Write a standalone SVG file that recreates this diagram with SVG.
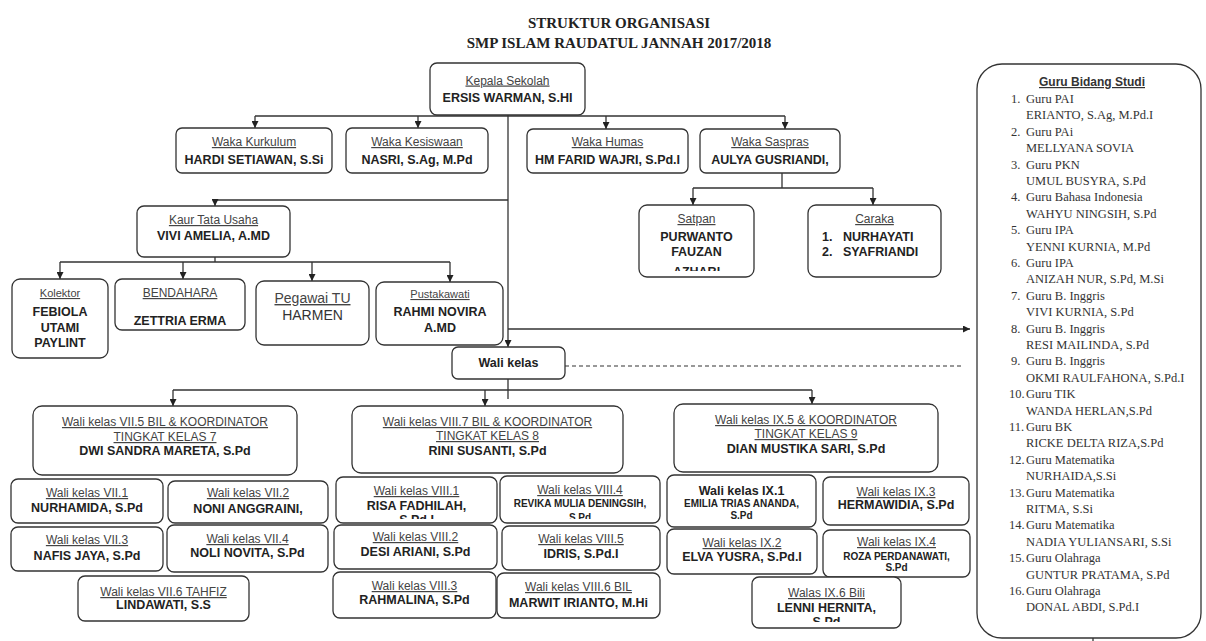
<svg xmlns="http://www.w3.org/2000/svg" width="1206" height="641" viewBox="0 0 1206 641">
<style>
.box{fill:#fff;stroke:#333;stroke-width:1.3}
.ln{fill:none;stroke:#333;stroke-width:1.3}
.dash{fill:none;stroke:#333;stroke-width:1.2;stroke-dasharray:4 3}
.t{font-family:"Liberation Serif","Times New Roman",serif;font-size:15px;font-weight:bold;fill:#222;text-anchor:middle}
.u{font-family:"Liberation Sans",Arial,sans-serif;font-size:12px;fill:#444;text-decoration:underline;text-anchor:middle}
.us{font-family:"Liberation Sans",Arial,sans-serif;font-size:11px;fill:#444;text-decoration:underline;text-anchor:middle}
.ul{font-family:"Liberation Sans",Arial,sans-serif;font-size:14px;fill:#444;text-decoration:underline;text-anchor:middle}
.nl{font-family:"Liberation Sans",Arial,sans-serif;font-size:14px;fill:#333;text-anchor:middle}
.b{font-family:"Liberation Sans",Arial,sans-serif;font-size:12.5px;font-weight:bold;fill:#222;text-anchor:middle}
.bs{font-family:"Liberation Sans",Arial,sans-serif;font-size:10px;font-weight:bold;fill:#222;text-anchor:middle}
.bl{font-family:"Liberation Sans",Arial,sans-serif;font-size:12.5px;font-weight:bold;fill:#222}
.g{font-family:"Liberation Serif","Times New Roman",serif;font-size:12.5px;fill:#333}
.gh{font-family:"Liberation Sans",Arial,sans-serif;font-size:12px;font-weight:bold;fill:#333;text-decoration:underline;text-anchor:middle}
</style>
<defs>
<marker id="ah" viewBox="0 0 8 8" refX="8" refY="4" markerWidth="7" markerHeight="7" orient="auto" markerUnits="userSpaceOnUse"><path d="M0,0 L8,4 L0,8 z" fill="#222"/></marker>
<clipPath id="cSat"><rect x="639" y="205" width="115" height="66"/></clipPath>
<clipPath id="c81"><rect x="336" y="477" width="161" height="42"/></clipPath>
<clipPath id="c84"><rect x="500" y="476" width="160" height="43"/></clipPath>
<clipPath id="c96"><rect x="752" y="577" width="149" height="45"/></clipPath>
</defs>
<rect width="1206" height="641" fill="#fff"/>
<g id="title">
<text class="t" x="619" y="28">STRUKTUR ORGANISASI</text>
<text class="t" x="619" y="48">SMP ISLAM RAUDATUL JANNAH 2017/2018</text>
</g>
<g id="connectors">
<path class="ln" d="M508,115 V347" marker-end="url(#ah)"/>
<path class="ln" d="M255,116 H785"/>
<path class="ln" d="M255,116 V128" marker-end="url(#ah)"/>
<path class="ln" d="M418,116 V128" marker-end="url(#ah)"/>
<path class="ln" d="M606,116 V129" marker-end="url(#ah)"/>
<path class="ln" d="M785,116 V129" marker-end="url(#ah)"/>
<path class="ln" d="M508,200 H215 V206" marker-end="url(#ah)"/>
<path class="ln" d="M215,257 V262 M60,262 H450"/>
<path class="ln" d="M60,262 V279" marker-end="url(#ah)"/>
<path class="ln" d="M183,262 V279" marker-end="url(#ah)"/>
<path class="ln" d="M312,262 V281" marker-end="url(#ah)"/>
<path class="ln" d="M450,262 V282" marker-end="url(#ah)"/>
<path class="ln" d="M782,173 V188 M693,188 H873"/>
<path class="ln" d="M693,188 V205" marker-end="url(#ah)"/>
<path class="ln" d="M873,188 V205" marker-end="url(#ah)"/>
<path class="ln" d="M508,329 H970" marker-end="url(#ah)"/>
<path class="ln" d="M508,379 V399 M173,390 H812"/>
<path class="ln" d="M173,390 V406" marker-end="url(#ah)"/>
<path class="ln" d="M485,390 V406" marker-end="url(#ah)"/>
<path class="ln" d="M812,390 V404" marker-end="url(#ah)"/>
<path class="dash" d="M565,366 H962"/>
<path class="ln" d="M1093,630 V641"/>
</g>
<g id="kepala"><rect class="box" x="430" y="63" width="155" height="52" rx="7"/>
<text class="u" x="507.5" y="84.5">Kepala Sekolah</text><text class="b" x="507.5" y="101.5">ERSIS WARMAN, S.HI</text></g>
<g id="kurikulum"><rect class="box" x="176" y="128" width="156" height="45" rx="6"/>
<text class="u" x="254" y="146">Waka Kurkulum</text><text class="b" x="254" y="164">HARDI SETIAWAN, S.Si</text></g>
<g id="kesiswaan"><rect class="box" x="346" y="128" width="142" height="45" rx="6"/>
<text class="u" x="417" y="146">Waka Kesiswaan</text><text class="b" x="417" y="164">NASRI, S.Ag, M.Pd</text></g>
<g id="humas"><rect class="box" x="527" y="129" width="161" height="44" rx="6"/>
<text class="u" x="607.5" y="146">Waka Humas</text><text class="b" x="607.5" y="164">HM FARID WAJRI, S.Pd.I</text></g>
<g id="saspras"><rect class="box" x="700" y="129" width="140" height="44" rx="6"/>
<text class="u" x="770" y="146">Waka Saspras</text><text class="b" x="770" y="164">AULYA GUSRIANDI,</text></g>
<g id="kaur"><rect class="box" x="137" y="206" width="153" height="51" rx="7"/>
<text class="u" x="213.5" y="224">Kaur Tata Usaha</text><text class="b" x="213.5" y="240">VIVI AMELIA, A.MD</text></g>
<g id="satpam"><rect class="box" x="639" y="205" width="115" height="72" rx="8"/>
<text class="u" x="696.5" y="223">Satpan</text><text class="b" x="696.5" y="241">PURWANTO</text><text class="b" x="696.5" y="256">FAUZAN</text>
<text class="b" x="696.5" y="276" clip-path="url(#cSat)">AZHARI</text></g>
<g id="caraka"><rect class="box" x="808" y="205" width="133" height="72" rx="8"/>
<text class="u" x="874.5" y="223">Caraka</text>
<text class="bl" x="822" y="241">1.</text><text class="bl" x="843" y="241">NURHAYATI</text>
<text class="bl" x="822" y="256">2.</text><text class="bl" x="843" y="256">SYAFRIANDI</text></g>
<g id="kolektor"><rect class="box" x="12" y="279" width="96" height="79" rx="8"/>
<text class="us" x="60" y="297">Kolektor</text><text class="b" x="60" y="316">FEBIOLA</text><text class="b" x="60" y="332">UTAMI</text><text class="b" x="60" y="347">PAYLINT</text></g>
<g id="bendahara"><rect class="box" x="115" y="279" width="130" height="51" rx="7"/>
<text class="u" x="180" y="297">BENDAHARA</text><text class="b" x="180" y="325">ZETTRIA ERMA</text></g>
<g id="pegawai"><rect class="box" x="256" y="281" width="113" height="64" rx="8"/>
<text class="ul" x="312.5" y="303">Pegawai TU</text><text class="nl" x="312.5" y="320">HARMEN</text></g>
<g id="pustakawati"><rect class="box" x="376" y="282" width="127" height="63" rx="8"/>
<text class="us" x="440" y="298">Pustakawati</text><text class="b" x="440" y="316">RAHMI NOVIRA</text><text class="b" x="440" y="332">A.MD</text></g>
<g id="walikelas"><rect class="box" x="452" y="347" width="113" height="32" rx="6"/>
<text class="b" x="508.5" y="367">Wali kelas</text></g>
<g id="koord7"><rect class="box" x="33" y="406" width="264" height="69" rx="9"/>
<text class="u" x="165" y="426">Wali kelas VII.5 BIL &amp; KOORDINATOR</text><text class="u" x="165" y="441">TINGKAT KELAS 7</text><text class="b" x="165" y="454.5">DWI SANDRA MARETA, S.Pd</text></g>
<g id="koord8"><rect class="box" x="352" y="406" width="271" height="67" rx="9"/>
<text class="u" x="487.5" y="426">Wali kelas VIII.7 BIL &amp; KOORDINATOR</text><text class="u" x="487.5" y="440">TINGKAT KELAS 8</text><text class="b" x="487.5" y="454.5">RINI SUSANTI, S.Pd</text></g>
<g id="koord9"><rect class="box" x="674" y="404" width="264" height="68" rx="9"/>
<text class="u" x="806" y="424">Wali kelas IX.5 &amp; KOORDINATOR</text><text class="u" x="806" y="438">TINGKAT KELAS 9</text><text class="b" x="806" y="452.5">DIAN MUSTIKA SARI, S.Pd</text></g>
<g id="vii1"><rect class="box" x="11" y="479" width="152" height="44" rx="7"/>
<text class="u" x="87" y="497">Wali kelas VII.1</text><text class="b" x="87" y="512">NURHAMIDA, S.Pd</text></g>
<g id="vii2"><rect class="box" x="168" y="481" width="160" height="42" rx="7"/>
<text class="u" x="248" y="497">Wali kelas VII.2</text><text class="b" x="248" y="513">NONI ANGGRAINI,</text></g>
<g id="vii3"><rect class="box" x="11" y="527" width="152" height="44" rx="7"/>
<text class="u" x="87" y="544">Wali kelas VII.3</text><text class="b" x="87" y="560">NAFIS JAYA, S.Pd</text></g>
<g id="vii4"><rect class="box" x="167" y="525" width="161" height="47" rx="7"/>
<text class="u" x="247.5" y="543">Wali kelas VII.4</text><text class="b" x="247.5" y="557">NOLI NOVITA, S.Pd</text></g>
<g id="vii6"><rect class="box" x="78" y="576" width="171" height="45" rx="7"/>
<text class="u" x="163.5" y="596">Wali kelas VII.6 TAHFIZ</text><text class="b" x="163.5" y="609">LINDAWATI, S.S</text></g>
<g id="viii1"><rect class="box" x="336" y="477" width="161" height="46" rx="7"/>
<text class="u" x="416.5" y="495">Wali kelas VIII.1</text><text class="b" x="416.5" y="510">RISA FADHILAH,</text>
<text class="b" x="416.5" y="524" clip-path="url(#c81)">S.Pd.I</text></g>
<g id="viii4"><rect class="box" x="500" y="476" width="160" height="47" rx="7"/>
<text class="u" x="580" y="494">Wali kelas VIII.4</text><text class="bs" x="580" y="507">REVIKA MULIA DENINGSIH,</text>
<text class="bs" x="580" y="521" clip-path="url(#c84)">S.Pd</text></g>
<g id="viii2"><rect class="box" x="334" y="525" width="163" height="44" rx="7"/>
<text class="u" x="415.5" y="541">Wali kelas VIII.2</text><text class="b" x="415.5" y="556">DESI ARIANI, S.Pd</text></g>
<g id="viii5"><rect class="box" x="502" y="526" width="158" height="44" rx="7"/>
<text class="u" x="581" y="543">Wali kelas VIII.5</text><text class="b" x="581" y="558">IDRIS, S.Pd.I</text></g>
<g id="viii3"><rect class="box" x="333" y="572" width="163" height="46" rx="7"/>
<text class="u" x="414.5" y="590">Wali kelas VIII.3</text><text class="b" x="414.5" y="604">RAHMALINA, S.Pd</text></g>
<g id="viii6"><rect class="box" x="497" y="573" width="163" height="45" rx="7"/>
<text class="u" x="578.5" y="591">Wali kelas VIII.6 BIL</text><text class="b" x="578.5" y="607">MARWIT IRIANTO, M.Hi</text></g>
<g id="ix1"><rect class="box" x="667" y="475" width="149" height="52" rx="7"/>
<text class="b" x="741.5" y="495">Wali kelas IX.1</text><text class="bs" x="741.5" y="507">EMILIA TRIAS ANANDA,</text><text class="bs" x="741.5" y="519">S.Pd</text></g>
<g id="ix3"><rect class="box" x="823" y="477" width="146" height="48" rx="7"/>
<text class="u" x="896" y="496">Wali kelas IX.3</text><text class="b" x="896" y="509">HERMAWIDIA, S.Pd</text></g>
<g id="ix2"><rect class="box" x="667" y="529" width="150" height="45" rx="7"/>
<text class="u" x="742" y="547">Wali kelas IX.2</text><text class="b" x="742" y="561">ELVA YUSRA, S.Pd.I</text></g>
<g id="ix4"><rect class="box" x="823" y="530" width="147" height="47" rx="7"/>
<text class="u" x="896.5" y="546">Wali kelas IX.4</text><text class="bs" x="896.5" y="560">ROZA PERDANAWATI,</text><text class="bs" x="896.5" y="571">S.Pd</text></g>
<g id="ix6"><rect class="box" x="752" y="577" width="149" height="51" rx="7"/>
<text class="u" x="826.5" y="597">Walas IX.6 Bili</text><text class="b" x="826.5" y="612">LENNI HERNITA,</text>
<text class="b" x="826.5" y="626" clip-path="url(#c96)">S.Pd</text></g>
<g id="guru">
<rect class="box" x="977" y="64" width="224" height="574" rx="25"/>
<text class="gh" x="1092" y="86">Guru Bidang Studi</text>
<text class="g" x="1011" y="103">1.</text><text class="g" x="1026" y="103">Guru PAI</text><text class="g" x="1026" y="119.4">ERIANTO, S.Ag, M.Pd.I</text>
<text class="g" x="1011" y="135.8">2.</text><text class="g" x="1026" y="135.8">Guru PAi</text><text class="g" x="1026" y="152.2">MELLYANA SOVIA</text>
<text class="g" x="1011" y="168.6">3.</text><text class="g" x="1026" y="168.6">Guru PKN</text><text class="g" x="1026" y="185">UMUL BUSYRA, S.Pd</text>
<text class="g" x="1011" y="201.4">4.</text><text class="g" x="1026" y="201.4">Guru Bahasa Indonesia</text><text class="g" x="1026" y="217.8">WAHYU NINGSIH, S.Pd</text>
<text class="g" x="1011" y="234.2">5.</text><text class="g" x="1026" y="234.2">Guru IPA</text><text class="g" x="1026" y="250.6">YENNI KURNIA, M.Pd</text>
<text class="g" x="1011" y="267">6.</text><text class="g" x="1026" y="267">Guru IPA</text><text class="g" x="1026" y="283.4">ANIZAH NUR, S.Pd, M.Si</text>
<text class="g" x="1011" y="299.8">7.</text><text class="g" x="1026" y="299.8">Guru B. Inggris</text><text class="g" x="1026" y="316.2">VIVI KURNIA, S.Pd</text>
<text class="g" x="1011" y="332.6">8.</text><text class="g" x="1026" y="332.6">Guru B. Inggris</text><text class="g" x="1026" y="349">RESI MAILINDA, S.Pd</text>
<text class="g" x="1011" y="365.4">9.</text><text class="g" x="1026" y="365.4">Guru B. Inggris</text><text class="g" x="1026" y="381.8">OKMI RAULFAHONA, S.Pd.I</text>
<text class="g" x="1009" y="398.2">10.</text><text class="g" x="1026" y="398.2">Guru TIK</text><text class="g" x="1026" y="414.6">WANDA HERLAN,S.Pd</text>
<text class="g" x="1009" y="431">11.</text><text class="g" x="1026" y="431">Guru BK</text><text class="g" x="1026" y="447.4">RICKE DELTA RIZA,S.Pd</text>
<text class="g" x="1009" y="463.8">12.</text><text class="g" x="1026" y="463.8">Guru Matematika</text><text class="g" x="1026" y="480.2">NURHAIDA,S.Si</text>
<text class="g" x="1009" y="496.6">13.</text><text class="g" x="1026" y="496.6">Guru Matematika</text><text class="g" x="1026" y="513">RITMA, S.Si</text>
<text class="g" x="1009" y="529.4">14.</text><text class="g" x="1026" y="529.4">Guru Matematika</text><text class="g" x="1026" y="545.8">NADIA YULIANSARI, S.Si</text>
<text class="g" x="1009" y="562.2">15.</text><text class="g" x="1026" y="562.2">Guru Olahraga</text><text class="g" x="1026" y="578.6">GUNTUR PRATAMA, S.Pd</text>
<text class="g" x="1009" y="595">16.</text><text class="g" x="1026" y="595">Guru Olahraga</text><text class="g" x="1026" y="611.4">DONAL ABDI, S.Pd.I</text>
</g>
</svg>
